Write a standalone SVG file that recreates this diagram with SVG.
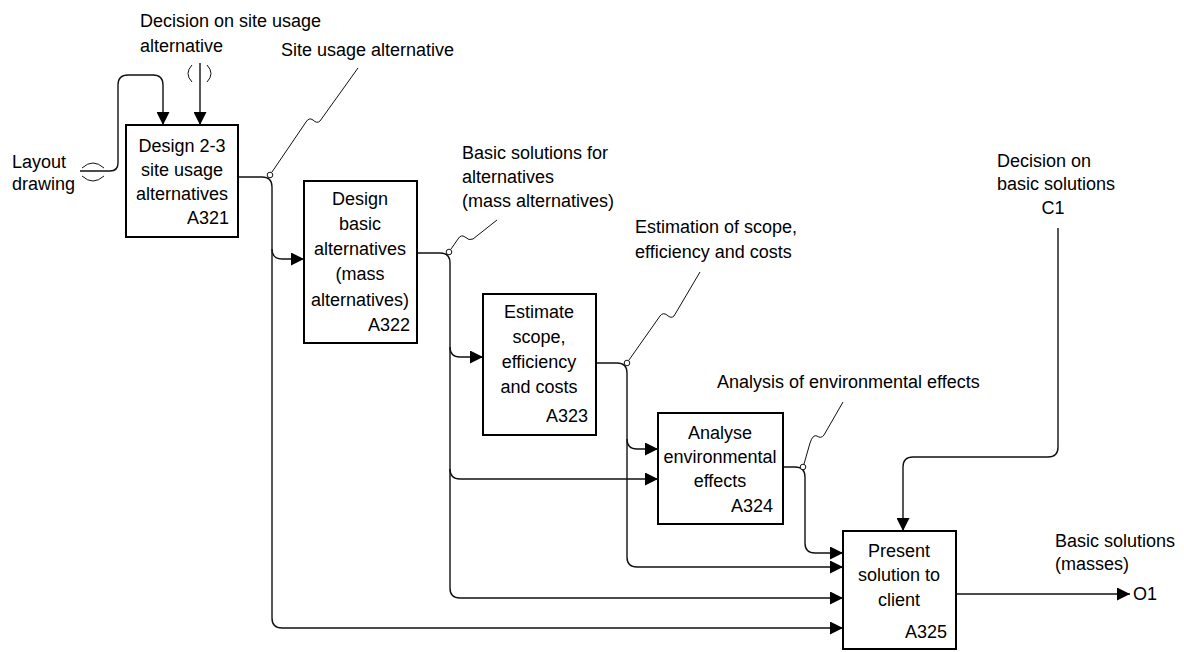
<svg xmlns="http://www.w3.org/2000/svg" width="1184" height="652" viewBox="0 0 1184 652">
  <style>
    text { font-family: "Liberation Sans", Arial, sans-serif; font-size: 18px; fill: #000; }
    .c { text-anchor: middle; }
    .r { text-anchor: end; }
    .box { fill: #fff; stroke: #000; stroke-width: 2; }
    .flow { fill: none; stroke: #111; stroke-width: 1.4; }
    .tag { fill: none; stroke: #111; stroke-width: 1; }
    .dot { fill: #fff; stroke: #111; stroke-width: 1; }
  </style>
  <defs>
    <marker id="arr" viewBox="0 0 13 13" refX="13" refY="6.5" markerWidth="13" markerHeight="13" orient="auto" markerUnits="userSpaceOnUse">
      <path d="M0,0 L13,6.5 L0,13 z" fill="#000"/>
    </marker>
  </defs>

  <!-- connectors -->
  <g id="connectors">
    <!-- Layout drawing (tunnelled input) -->
    <path class="flow" d="M80,171 H110 Q118,171 118,163 V85 Q118,75 128,75 H153 Q163,75 163,85 V125" marker-end="url(#arr)"/>
    <path class="tag" d="M82,168 Q93,158 104,168 M82,176 Q93,186 104,176"/>
    <!-- Decision on site usage alternative (tunnelled control) -->
    <path class="flow" d="M200,63 V125" marker-end="url(#arr)"/>
    <path class="tag" d="M192,65 Q184,73.5 192,82 M207,65 Q215,73.5 207,82"/>

    <!-- A321 output: site usage alternative -->
    <path class="flow" d="M238,177 H262 Q272,177 272,187 V618 Q272,628 282,628 H843" marker-end="url(#arr)"/>
    <path class="flow" d="M272,249 Q272,259 282,259 H304" marker-end="url(#arr)"/>

    <!-- A322 output: basic solutions for alternatives -->
    <path class="flow" d="M417,253 H440 Q450,253 450,263 V588 Q450,598 460,598 H843" marker-end="url(#arr)"/>
    <path class="flow" d="M450,347 Q450,357 460,357 H483" marker-end="url(#arr)"/>
    <path class="flow" d="M450,469 Q450,479 460,479 H658" marker-end="url(#arr)"/>

    <!-- A323 output: estimation of scope, efficiency and costs -->
    <path class="flow" d="M596,363 H617 Q627,363 627,373 V557 Q627,567 637,567 H843" marker-end="url(#arr)"/>
    <path class="flow" d="M627,439 Q627,449 637,449 H658" marker-end="url(#arr)"/>

    <!-- A324 output: analysis of environmental effects -->
    <path class="flow" d="M783,467 H795 Q805,467 805,477 V543 Q805,553 815,553 H843" marker-end="url(#arr)"/>

    <!-- C1 control -->
    <path class="flow" d="M1058,228 V447 Q1058,457 1048,457 H913 Q903,457 903,467 V531" marker-end="url(#arr)"/>

    <!-- O1 output -->
    <path class="flow" d="M956,594 H1130" marker-end="url(#arr)"/>

    <!-- label leaders -->
    <path class="tag" d="M272,172 L306,122 Q309,117 313,120 Q317,124 320,121 L358,68"/>
    <path class="tag" d="M451,249 L458,239 Q461,234 465,237 Q469,241 473,239 L497,220"/>
    <path class="tag" d="M629,360 L660,316 Q663,312 667,315 Q671,319 674,316 L700,272"/>
    <path class="tag" d="M804,464 L810,443 Q813,434 817,436 Q821,439 824,435 L843,402"/>
    <circle class="dot" cx="270" cy="175" r="2.8"/>
    <circle class="dot" cx="449" cy="252" r="2.8"/>
    <circle class="dot" cx="627" cy="363" r="2.8"/>
    <circle class="dot" cx="803" cy="467" r="2.8"/>
  </g>

  <!-- arrow labels -->
  <g id="labels">
    <text x="140" y="27">Decision on site usage</text>
    <text x="140" y="52">alternative</text>
    <text x="281" y="56">Site usage alternative</text>
    <text x="12" y="168">Layout</text>
    <text x="12" y="190">drawing</text>
    <text x="462" y="159">Basic solutions for</text>
    <text x="462" y="183">alternatives</text>
    <text x="462" y="207">(mass alternatives)</text>
    <text x="635" y="233">Estimation of scope,</text>
    <text x="635" y="258">efficiency and costs</text>
    <text x="717" y="388">Analysis of environmental effects</text>
    <text x="997" y="167">Decision on</text>
    <text x="997" y="190">basic solutions</text>
    <text class="c" x="1053" y="214">C1</text>
    <text x="1055" y="547">Basic solutions</text>
    <text x="1055" y="570">(masses)</text>
    <text x="1133" y="600">O1</text>
  </g>

  <!-- activity boxes -->
  <g id="A321">
    <rect class="box" x="126" y="125" width="112" height="112"/>
    <text class="c" x="182" y="152">Design 2-3</text>
    <text class="c" x="182" y="176">site usage</text>
    <text class="c" x="182" y="200">alternatives</text>
    <text class="r" x="229" y="224">A321</text>
  </g>
  <g id="A322">
    <rect class="box" x="304" y="181" width="113" height="162"/>
    <text class="c" x="360" y="205">Design</text>
    <text class="c" x="360" y="230">basic</text>
    <text class="c" x="360" y="255">alternatives</text>
    <text class="c" x="360" y="280">(mass</text>
    <text class="c" x="360" y="306">alternatives)</text>
    <text class="r" x="410" y="331">A322</text>
  </g>
  <g id="A323">
    <rect class="box" x="483" y="294" width="113" height="141"/>
    <text class="c" x="539" y="318">Estimate</text>
    <text class="c" x="539" y="343">scope,</text>
    <text class="c" x="539" y="368">efficiency</text>
    <text class="c" x="539" y="393">and costs</text>
    <text class="r" x="588" y="422">A323</text>
  </g>
  <g id="A324">
    <rect class="box" x="658" y="413" width="125" height="111"/>
    <text class="c" x="720" y="439">Analyse</text>
    <text class="c" x="720" y="463">environmental</text>
    <text class="c" x="720" y="487">effects</text>
    <text class="r" x="773" y="512">A324</text>
  </g>
  <g id="A325">
    <rect class="box" x="843" y="531" width="113" height="118"/>
    <text class="c" x="899" y="557">Present</text>
    <text class="c" x="899" y="581">solution to</text>
    <text class="c" x="899" y="606">client</text>
    <text class="r" x="947" y="638">A325</text>
  </g>
</svg>
